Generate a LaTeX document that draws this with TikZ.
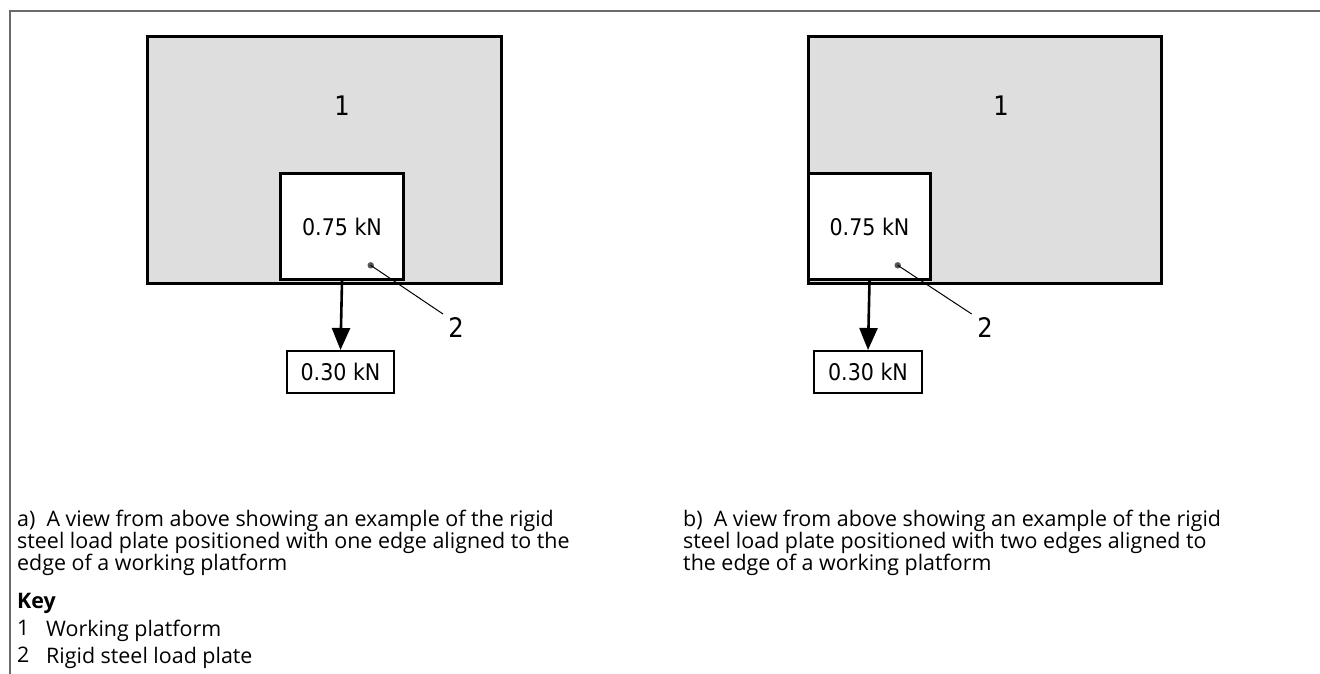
\documentclass[tikz,border=0pt]{standalone}
\usepackage{fontspec}
\setmainfont{Open Sans}
\newfontfamily\isofont{DejaVu Sans Condensed}
\usetikzlibrary{arrows.meta}
\definecolor{platgray}{HTML}{DEDEDE}
\definecolor{framegray}{HTML}{6A6A6A}
\definecolor{dotgray}{HTML}{555555}
\tikzset{
  platform/.style={draw=black, line width=3bp, fill=platgray, anchor=north west, inner sep=0pt},
  plate/.style={draw=black, line width=3bp, fill=white, anchor=south west, inner sep=0pt,
    minimum width=123bp, minimum height=106bp, font=\isofont\fontsize{23}{23}\selectfont},
  loadbox/.style={draw=black, line width=2bp, fill=white, inner sep=0pt,
    minimum width=107bp, minimum height=42bp, font=\isofont\fontsize{23}{23}\selectfont},
  numlabel/.style={font=\isofont\fontsize{27}{27}\selectfont, inner sep=0pt},
  leader/.style={line width=1bp},
  force/.style={line width=2.6bp, -{Triangle[length=22bp,width=18bp]}},
  caption/.style={align=left, anchor=north west, inner sep=0pt, font=\fontsize{21.5}{22}\selectfont},
}
\begin{document}
\begin{tikzpicture}[x=1bp,y=-1bp]
\useasboundingbox (0,0) rectangle (1320,673);
% frame
\draw[framegray, line width=1.6bp] (9.8,680) -- (9.8,10.8) -- (1330,10.8);
% ---- (a) ----
\node[platform, minimum width=354bp, minimum height=247bp] (pa) at (146,35) {};
\node[numlabel] (onea) at (342,106) {1};
\node[plate] (sa) at (279,281) {0.75 kN};
\coordinate (da) at (370.7,265.3);
\coordinate (la) at (443,314);
\fill[dotgray] (da) circle (3.2bp);
\draw[leader] (da) -- (la);
\node[numlabel] (twoa) at (456,328) {2};
\node[loadbox] (ba) at (340.5,372) {0.30 kN};
\draw[force] (sa.south) -- (ba.north);
% ---- (b) ----
\node[platform, minimum width=353bp, minimum height=247bp] (pb) at (807,35) {};
\node[numlabel] (oneb) at (1001,106) {1};
\node[plate, minimum width=122bp] (sb) at (807,281) {0.75 kN};
\coordinate (db) at (897.7,265.3);
\coordinate (lb) at (971.7,314);
\fill[dotgray] (db) circle (3.2bp);
\draw[leader] (db) -- (lb);
\node[numlabel] (twob) at (985,328) {2};
\node[loadbox, minimum width=108bp] (bb) at (868,372) {0.30 kN};
\draw[force] (sb.south) -- (bb.north);
% ---- captions ----
\node[caption] (capa) at (17,510) {a)\ \ A view from above showing an example of the rigid\\steel load plate positioned with one edge aligned to the\\edge of a working platform};
\node[caption] (capb) at (683,510) {b)\ \ A view from above showing an example of the rigid\\steel load plate positioned with two edges aligned to\\the edge of a working platform};
\node[caption, font=\bfseries\fontsize{21.5}{22}\selectfont] (key) at (17,593) {Key};
\node[caption] (k1n) at (17,620) {1};
\node[caption] (k1t) at (46,620) {Working platform};
\node[caption] (k2n) at (17,647) {2};
\node[caption] (k2t) at (46,647) {Rigid steel load plate};
\end{tikzpicture}
\end{document}
